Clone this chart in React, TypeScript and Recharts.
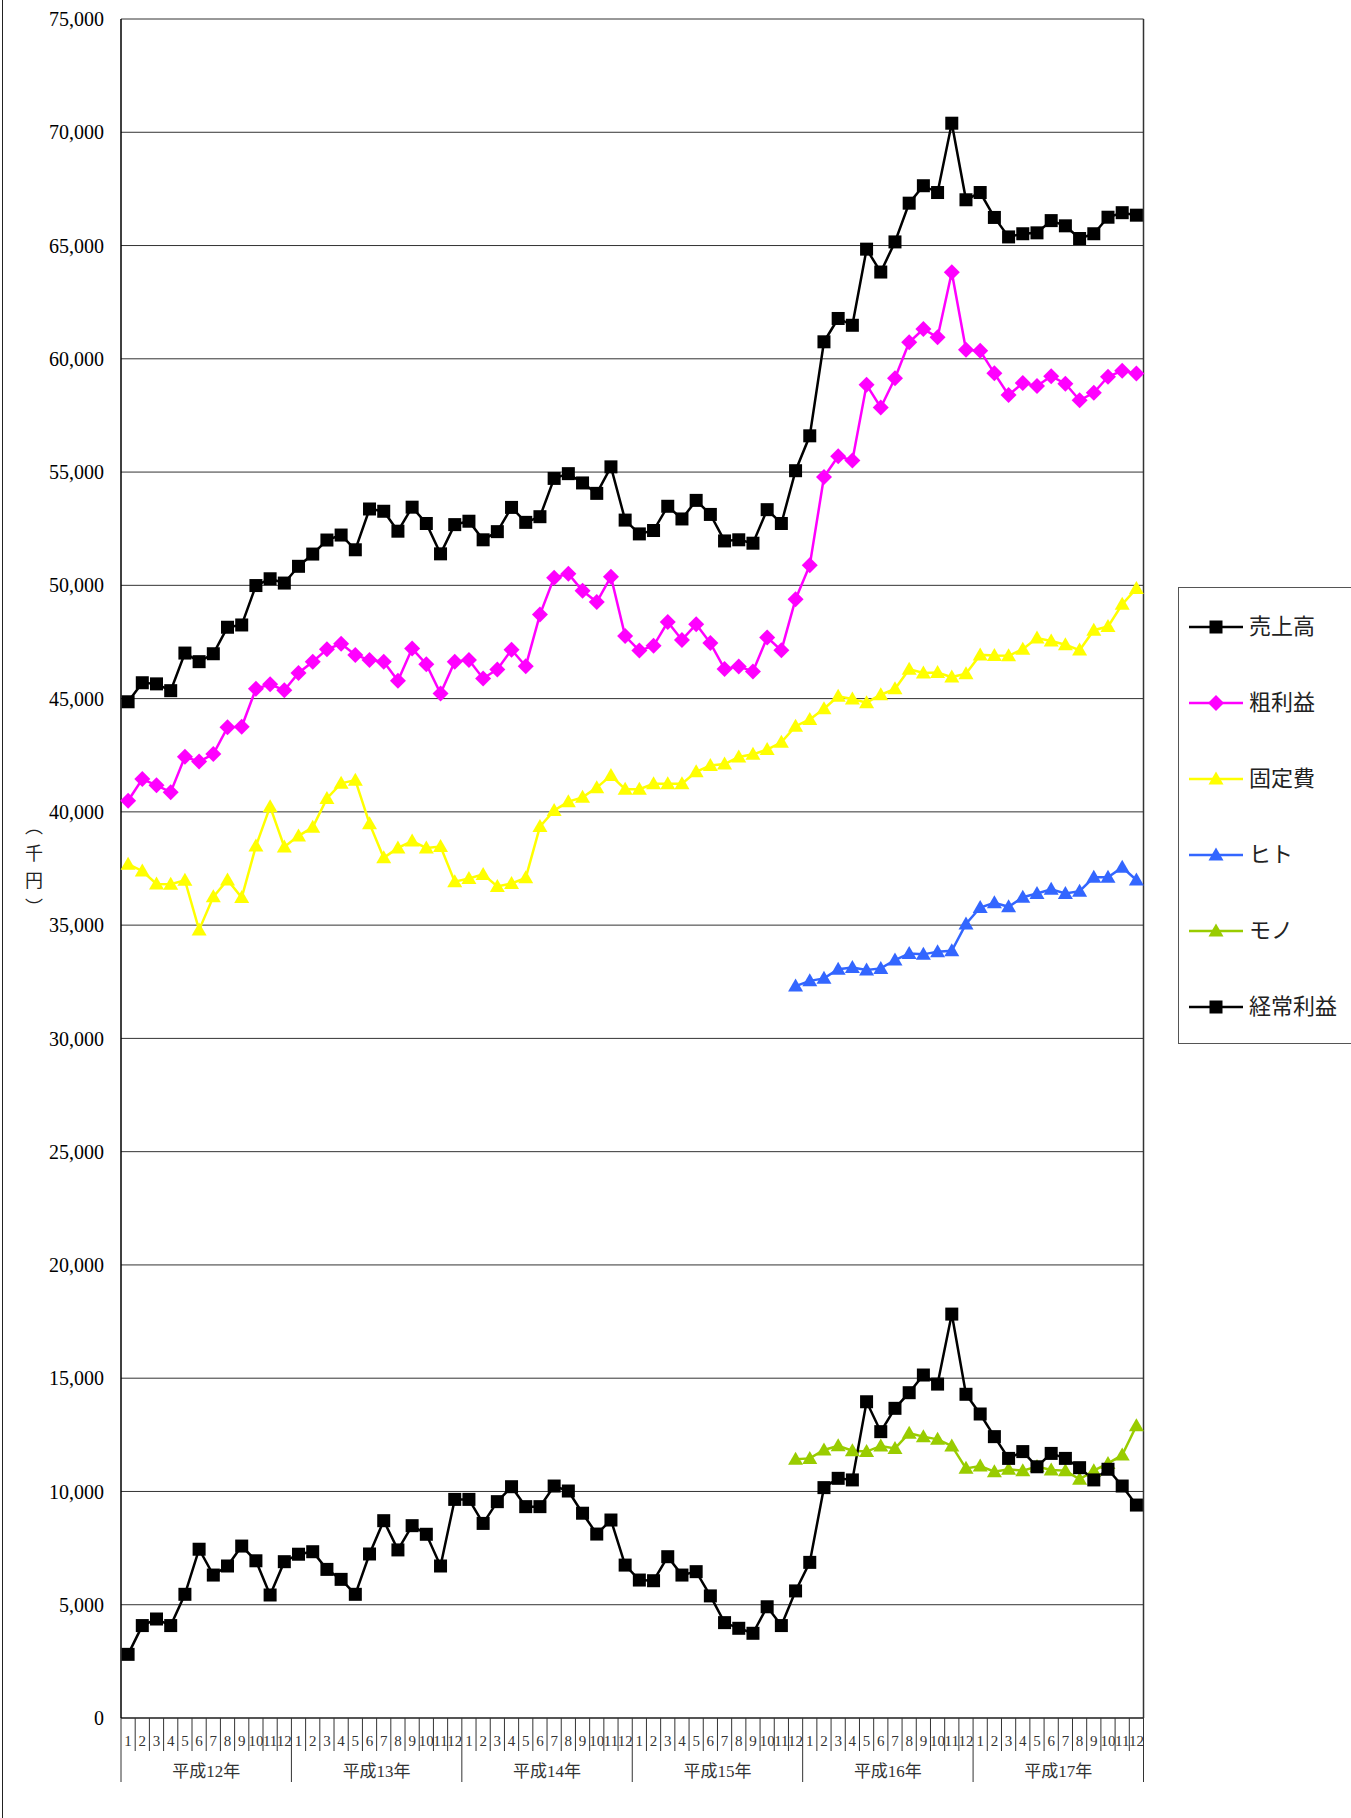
import { LineChart, Line, XAxis, YAxis, CartesianGrid } from 'recharts';

const years = ['平成12年', '平成13年', '平成14年', '平成15年', '平成16年', '平成17年'];
const monthLabels = ['1', '2', '3', '4', '5', '6', '7', '8', '9', '10', '11', '12'];
const yTicks = [0, 5000, 10000, 15000, 20000, 25000, 30000, 35000, 40000, 45000, 50000, 55000, 60000, 65000, 70000, 75000];

// 売上高
const uriage = [
  44860, 45700, 45650, 45350, 47010, 46630, 46980, 48150, 48250, 49990, 50290, 50100,
  50840, 51380, 52000, 52220, 51570, 53370, 53270, 52390, 53450, 52730, 51390, 52680,
  52830, 52010, 52370, 53440, 52780, 53030, 54720, 54930, 54520, 54060, 55230, 52880,
  52270, 52420, 53490, 52930, 53750, 53130, 51960, 52010, 51860, 53340, 52730, 55060,
  56600, 60750, 61780, 61480, 64840, 63830, 65160, 66870, 67640, 67340, 70400, 67020,
  67340, 66240, 65380, 65520, 65560, 66100, 65870, 65310, 65520, 66250, 66450, 66340,
];

// 粗利益
const arari = [
  40490, 41450, 41170, 40870, 42430, 42220, 42550, 43730, 43760, 45430, 45630, 45370,
  46130, 46630, 47180, 47420, 46930, 46700, 46630, 45790, 47210, 46520, 45220, 46630,
  46700, 45890, 46290, 47160, 46430, 48710, 50340, 50510, 49760, 49260, 50380, 47760,
  47120, 47330, 48380, 47590, 48280, 47450, 46310, 46420, 46200, 47700, 47130, 49390,
  50890, 54780, 55700, 55510, 58850, 57850, 59140, 60730, 61310, 60950, 63820, 60400,
  60350, 59360, 58400, 58930, 58800, 59230, 58900, 58170, 58500, 59210, 59470, 59350,
];

// 固定費
const koteihi = [
  37690, 37390, 36820, 36810, 36980, 34790, 36250, 36990, 36220, 38490, 40230, 38450,
  38940, 39320, 40590, 41260, 41400, 39480, 37970, 38410, 38710, 38410, 38470, 36920,
  37060, 37240, 36710, 36840, 37090, 39350, 40060, 40450, 40640, 41070, 41600, 41000,
  41000, 41240, 41240, 41240, 41770, 42050, 42110, 42420, 42540, 42750, 43070, 43780,
  44080, 44550, 45100, 44980, 44820, 45170, 45430, 46300, 46130, 46150, 45950, 46100,
  46930, 46900, 46890, 47180, 47670, 47540, 47380, 47140, 48020, 48180, 49160, 49860,
];

// ヒト (from 平成15年12月)
const hito = [
  ...Array(47).fill(null),
  32310, 32540, 32650, 33050, 33130, 33020, 33090, 33460, 33750, 33710, 33830, 33870,
  35050, 35780, 35990, 35810, 36230, 36400, 36580, 36400, 36500, 37110, 37110, 37550, 36990,
];

// モノ (from 平成15年12月)
const mono = [
  ...Array(47).fill(null),
  11420, 11460, 11830, 12020, 11800, 11760, 12010, 11900, 12570, 12420, 12300, 12010,
  11020, 11120, 10870, 10980, 10920, 11100, 10950, 10920, 10540, 10920, 11240, 11610, 12900,
];

// 経常利益
const keijo = [
  2810, 4080, 4370, 4080, 5460, 7450, 6310, 6710, 7590, 6940, 5430, 6900,
  7230, 7340, 6560, 6120, 5460, 7240, 8710, 7420, 8490, 8110, 6710, 9650,
  9650, 8590, 9550, 10210, 9330, 9330, 10240, 10020, 9040, 8120, 8740, 6750,
  6090, 6060, 7120, 6310, 6460, 5390, 4210, 3960, 3740, 4910, 4080, 5610,
  6870, 10170, 10580, 10510, 13960, 12640, 13670, 14360, 15140, 14740, 17830, 14290,
  13420, 12420, 11460, 11760, 11090, 11680, 11460, 11050, 10510, 10980, 10240, 9400,
];

const categories = years.flatMap((year) => monthLabels.map((month) => ({ year, month })));

const data = categories.map((c, i) => ({
  cat: `${c.year}-${c.month}`,
  uriage: uriage[i],
  arari: arari[i],
  koteihi: koteihi[i],
  hito: hito[i],
  mono: mono[i],
  keijo: keijo[i],
}));

const seriesDefs = [
  { key: 'uriage', name: '売上高', color: '#000000', shape: 'square' },
  { key: 'arari', name: '粗利益', color: '#ff00ff', shape: 'diamond' },
  { key: 'koteihi', name: '固定費', color: '#ffff00', shape: 'triangle' },
  { key: 'hito', name: 'ヒト', color: '#3366ff', shape: 'triangle' },
  { key: 'mono', name: 'モノ', color: '#99cc00', shape: 'triangle' },
  { key: 'keijo', name: '経常利益', color: '#000000', shape: 'square' },
];

const CHART_W = 1351;
const CHART_H = 1818;
const Y_AXIS_W = 121;
const MARGIN_RIGHT = 206.5;
const PLOT_W = CHART_W - Y_AXIS_W - MARGIN_RIGHT - 1;
const BAND = PLOT_W / categories.length;
const FONT = "'Liberation Serif', 'Noto Sans CJK JP', serif";

const marker = (shape: string, cx: number, cy: number, color: string, key?: string | number) => {
  if (shape === 'square') {
    return <rect key={key} x={cx - 6.5} y={cy - 6.5} width={13} height={13} fill={color} />;
  }
  if (shape === 'diamond') {
    return (
      <polygon
        key={key}
        points={`${cx},${cy - 8} ${cx + 8},${cy} ${cx},${cy + 8} ${cx - 8},${cy}`}
        fill={color}
      />
    );
  }
  return (
    <polygon
      key={key}
      points={`${cx},${cy - 7.5} ${cx + 7.5},${cy + 5.5} ${cx - 7.5},${cy + 5.5}`}
      fill={color}
    />
  );
};

const makeDot = (shape: string, color: string) => (p: any) => {
  if (p.cx == null || p.cy == null || p.value == null) return <g key={`e-${p.index}`} />;
  return marker(shape, p.cx, p.cy, color, `d-${p.index}`);
};

const MonthTick = (props: any) => {
  const { x, y, index } = props;
  const c = categories[index];
  if (!c) return null;
  const left = x - BAND / 2;
  const yearStart = index % 12 === 0;
  return (
    <g>
      <line x1={left} y1={y} x2={left} y2={y + (yearStart ? 64 : 33)} stroke="#333" strokeWidth={1} />
      {index === categories.length - 1 && (
        <line x1={x + BAND / 2} y1={y} x2={x + BAND / 2} y2={y + 64} stroke="#333" strokeWidth={1} />
      )}
      <text x={x} y={y + 28} textAnchor="middle" fontSize={15} fill="#333" fontFamily={FONT}>
        {c.month}
      </text>
      {index % 12 === 6 && (
        <text x={left} y={y + 59} textAnchor="middle" fontSize={17} fill="#333" fontFamily={FONT}>
          {c.year}
        </text>
      )}
    </g>
  );
};

const LegendBox = () => (
  <div
    style={{
      position: 'absolute',
      left: 1178,
      top: 587,
      width: 200,
      height: 457,
      border: '1px solid #555',
      boxSizing: 'border-box',
      background: '#fff',
    }}
  >
    {seriesDefs.map((s, i) => (
      <div
        key={s.key}
        style={{
          position: 'absolute',
          left: 0,
          top: 39 + i * 76 - 15,
          height: 30,
          display: 'flex',
          alignItems: 'center',
        }}
      >
        <svg width={70} height={30}>
          <line x1={10} y1={15} x2={64} y2={15} stroke={s.color} strokeWidth={2.5} />
          {marker(s.shape, 37, 15, s.color)}
        </svg>
        <span style={{ fontSize: 22, lineHeight: '30px', color: '#222' }}>{s.name}</span>
      </div>
    ))}
  </div>
);

// 単位 (千円), stacked vertically
const unitChars = ['︵', '千', '円', '︶'];

export default function App() {
  return (
    <div
      style={{
        position: 'absolute',
        left: 0,
        top: 0,
        width: CHART_W,
        height: CHART_H,
        overflow: 'hidden',
        background: '#fff',
        fontFamily: FONT,
      }}
    >
      <div style={{ position: 'absolute', left: 2, top: 0, width: 1, height: CHART_H, background: '#222' }} />
      <div
        style={{
          position: 'absolute',
          left: 22,
          top: 812,
          width: 24,
          textAlign: 'center',
          fontSize: 18,
          lineHeight: '27px',
          fontFamily: "'Noto Sans CJK JP', sans-serif",
          color: '#222',
        }}
      >
        {unitChars.map((ch, i) => (
          <span key={ch}>
            {i > 0 && <br />}
            {ch}
          </span>
        ))}
      </div>
      <LineChart
        width={CHART_W}
        height={CHART_H}
        data={data}
        margin={{ top: 19, right: MARGIN_RIGHT, bottom: 0, left: 0 }}
      >
        <CartesianGrid vertical={false} stroke="#333" strokeWidth={1} />
        <XAxis
          dataKey="cat"
          interval={0}
          height={100}
          padding={{ left: BAND / 2, right: BAND / 2 }}
          tickLine={false}
          tickSize={0}
          tickMargin={0}
          axisLine={{ stroke: '#555', strokeWidth: 2 }}
          tick={<MonthTick />}
        />
        <YAxis
          width={Y_AXIS_W}
          domain={[0, 75000]}
          ticks={yTicks}
          interval={0}
          tickLine={false}
          tickSize={0}
          tickMargin={17}
          tickFormatter={(v: number) => v.toLocaleString('en-US')}
          tick={{ fontSize: 20, fill: '#000', fontFamily: FONT }}
          axisLine={{ stroke: '#000', strokeWidth: 1.5 }}
        />
        <YAxis
          yAxisId="r"
          orientation="right"
          width={1}
          domain={[0, 75000]}
          ticks={yTicks}
          tick={false}
          tickLine={false}
          axisLine={{ stroke: '#333', strokeWidth: 1.5 }}
        />
        {seriesDefs.map((s) => (
          <Line
            key={s.key}
            type="linear"
            dataKey={s.key}
            name={s.name}
            stroke={s.color}
            strokeWidth={2.5}
            dot={makeDot(s.shape, s.color)}
            activeDot={false}
            isAnimationActive={false}
            connectNulls={false}
          />
        ))}
      </LineChart>
      <LegendBox />
    </div>
  );
}
